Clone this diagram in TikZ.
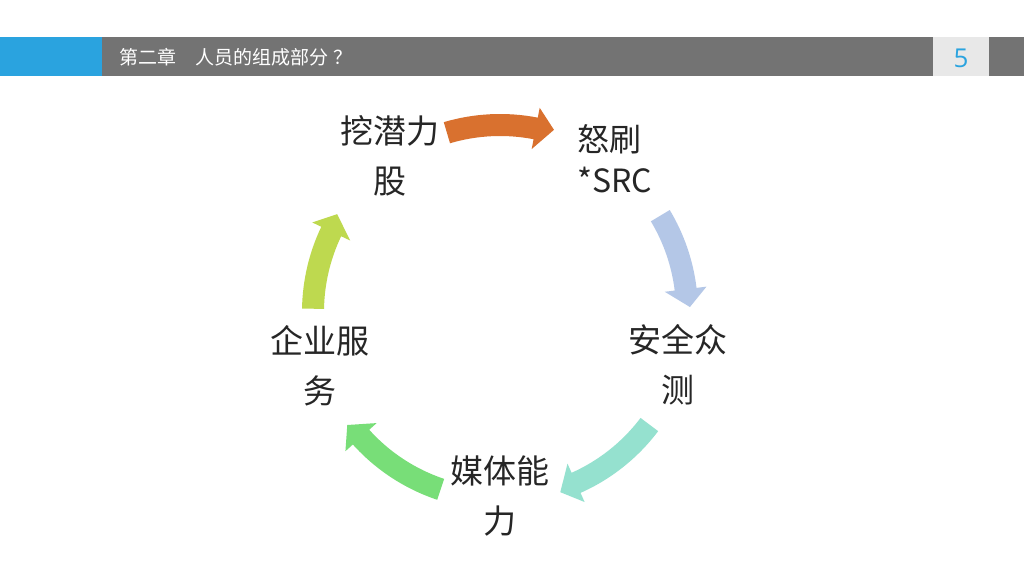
\documentclass[tikz,border=0pt]{standalone}
\usepackage{fontspec}
\newfontfamily\cjk{Noto Sans CJK SC}
\newfontfamily\numfont{Open Sans}
\usetikzlibrary{calc}
\definecolor{barblue}{HTML}{2AA3DF}
\definecolor{bargrey}{HTML}{737373}
\definecolor{boxgrey}{HTML}{E8E8E8}
\definecolor{numblue}{HTML}{2AA3DF}
\definecolor{txt}{HTML}{262626}
\definecolor{aorange}{HTML}{D9712F}
\definecolor{ablue}{HTML}{B4C7E7}
\definecolor{ateal}{HTML}{95E1CF}
\definecolor{agreen}{HTML}{78DE78}
\definecolor{alime}{HTML}{BED94F}
\newcommand\cyclearrow[3]{%
  \pgfmathsetmacro\hb{#3+5.5}%
  \fill[#1] ($(C)+(#2:198pt)$) arc[start angle=#2, end angle=\hb, radius=198pt]
    -- ($(C)+(\hb:208pt)$) -- ($(C)+(#3:190pt)$) -- ($(C)+(\hb:166pt)$)
    -- ($(C)+(\hb:176pt)$) arc[start angle=\hb, end angle=#2, radius=176pt] -- cycle;}
\tikzset{
  item/.style={font=\cjk\fontsize{33}{50}\selectfont, text=txt, inner sep=0pt, align=center},
}
\begin{document}
\begin{tikzpicture}[x=1pt,y=1pt]
\useasboundingbox (0,0) rectangle (1024,576);
\fill[white] (0,0) rectangle (1024,576);
% header bar
\fill[bargrey] (0,500) rectangle (1024,539);
\fill[barblue] (0,500) rectangle (102,539);
\fill[boxgrey] (933,500) rectangle (989,539);
\node[anchor=west, inner sep=0pt, text=white, font=\cjk\fontsize{19}{22}\selectfont] (title) at (119,519) {第二章　人员的组成部分\hspace{5pt}？};
\node[inner sep=0pt, text=numblue, font=\numfont\fontsize{26}{30}\selectfont] (pnum) at (961,518) {5};
% cycle
\coordinate (C) at (500,264);
\cyclearrow{aorange}{106.5}{73.5}
\cyclearrow{ablue}{31}{1.5}
\cyclearrow{ateal}{-37}{-71.5}
\cyclearrow{agreen}{-108.5}{-143.5}
\cyclearrow{alime}{179}{149}
\node[item] (n1) at (390,420.5) {挖潜力\\股};
\node[item, align=left, anchor=west, font=\cjk\fontsize{32}{41}\selectfont] (n2) at (577,417) {怒刷\\*SRC};
\node[item] (n3) at (678,211) {安全众\\测};
\node[item] (n4) at (500,80) {媒体能\\力};
\node[item] (n5) at (320,210) {企业服\\务};
\end{tikzpicture}
\end{document}
